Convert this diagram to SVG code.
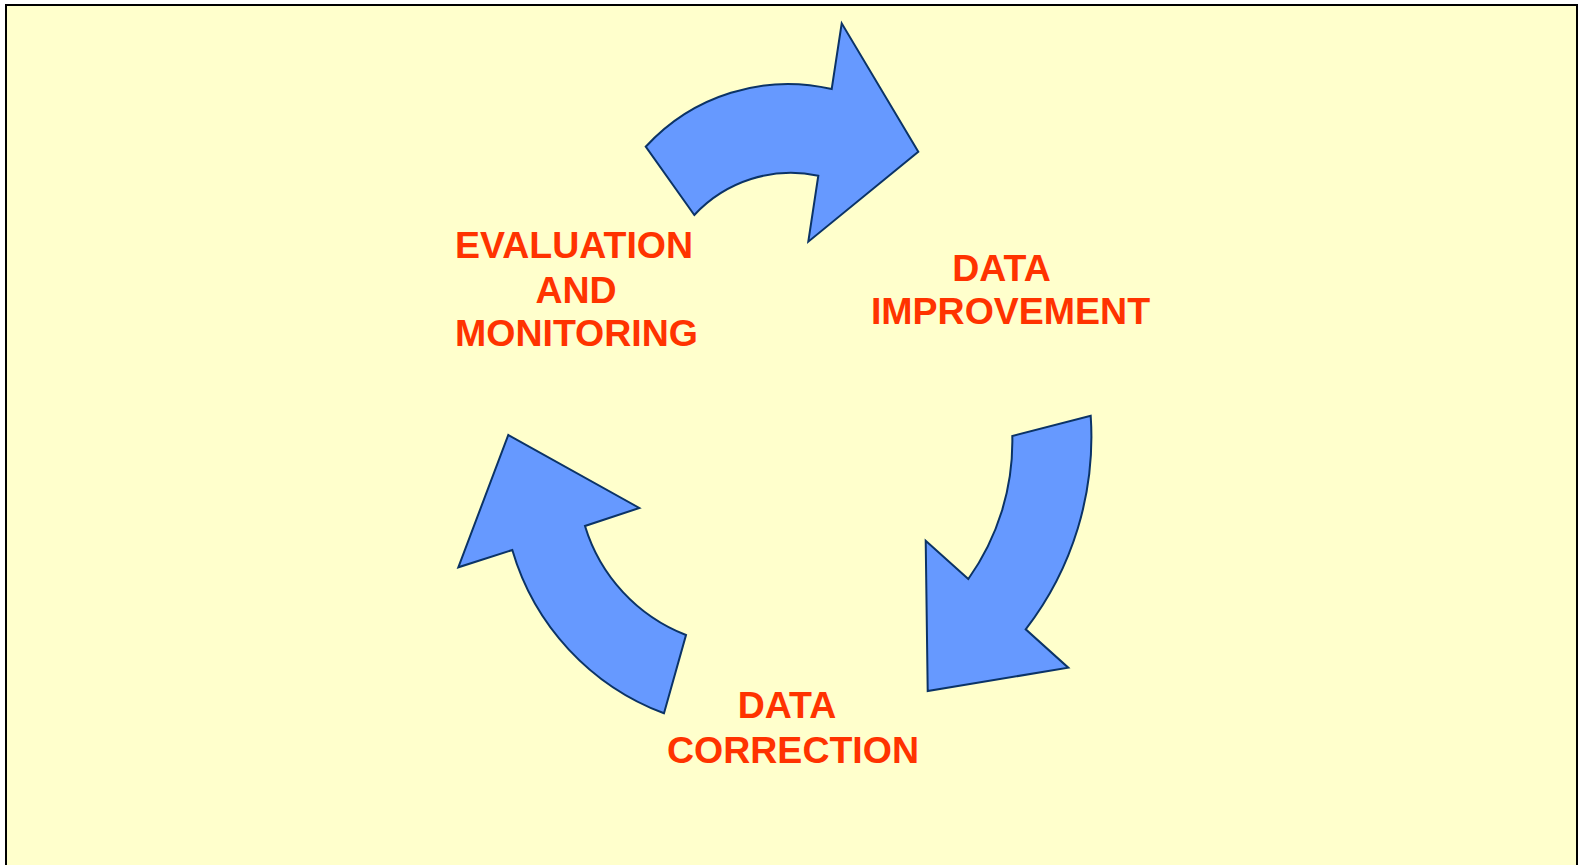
<svg xmlns="http://www.w3.org/2000/svg" width="1579" height="865" viewBox="0 0 1579 865">
<style>
.arrow{fill:#6699FF;stroke:#0B3366;stroke-width:2;stroke-linejoin:miter}
.lbl{font-family:"Liberation Sans",Arial,sans-serif;font-weight:bold;font-size:37.5px;fill:#FF3300;text-anchor:middle}
</style>
<rect x="0" y="0" width="1579" height="865" fill="#ffffff"/>
<rect id="frame" x="6" y="5" width="1571" height="900" fill="#FFFFCC" stroke="#000000" stroke-width="2"/>
<g id="connectors">
<path id="arrow-top" class="arrow" d="M645.7,146.7 A193,193 0 0 1 831.7,89 L841.7,23.3 L918.3,151.7 L808.3,241.7 L818.3,175.7 A132,132 0 0 0 694.3,215 Z"/>
<path id="arrow-right" class="arrow" d="M1090.7,415.7 A315,315 0 0 1 1025.7,629.3 L1068.3,667.7 L927.7,691 L925.7,540.7 L968.3,579 A237,237 0 0 0 1012.3,436 Z"/>
<path id="arrow-left" class="arrow" d="M664,713.3 A249,249 0 0 1 512.3,550 L458.3,567.3 L508.3,435 L639.3,508 L585,526 A170,170 0 0 0 686,635 Z"/>
</g>
<g id="node-evaluation">
<text class="lbl" x="574" y="258">EVALUATION</text>
<text class="lbl" x="576" y="302.5">AND</text>
<text class="lbl" x="576.5" y="346">MONITORING</text>
</g>
<g id="node-improvement">
<text class="lbl" x="1001.5" y="280.5">DATA</text>
<text class="lbl" x="1010.5" y="324">IMPROVEMENT</text>
</g>
<g id="node-correction">
<text class="lbl" x="787" y="718">DATA</text>
<text class="lbl" x="793" y="763">CORRECTION</text>
</g>
</svg>
